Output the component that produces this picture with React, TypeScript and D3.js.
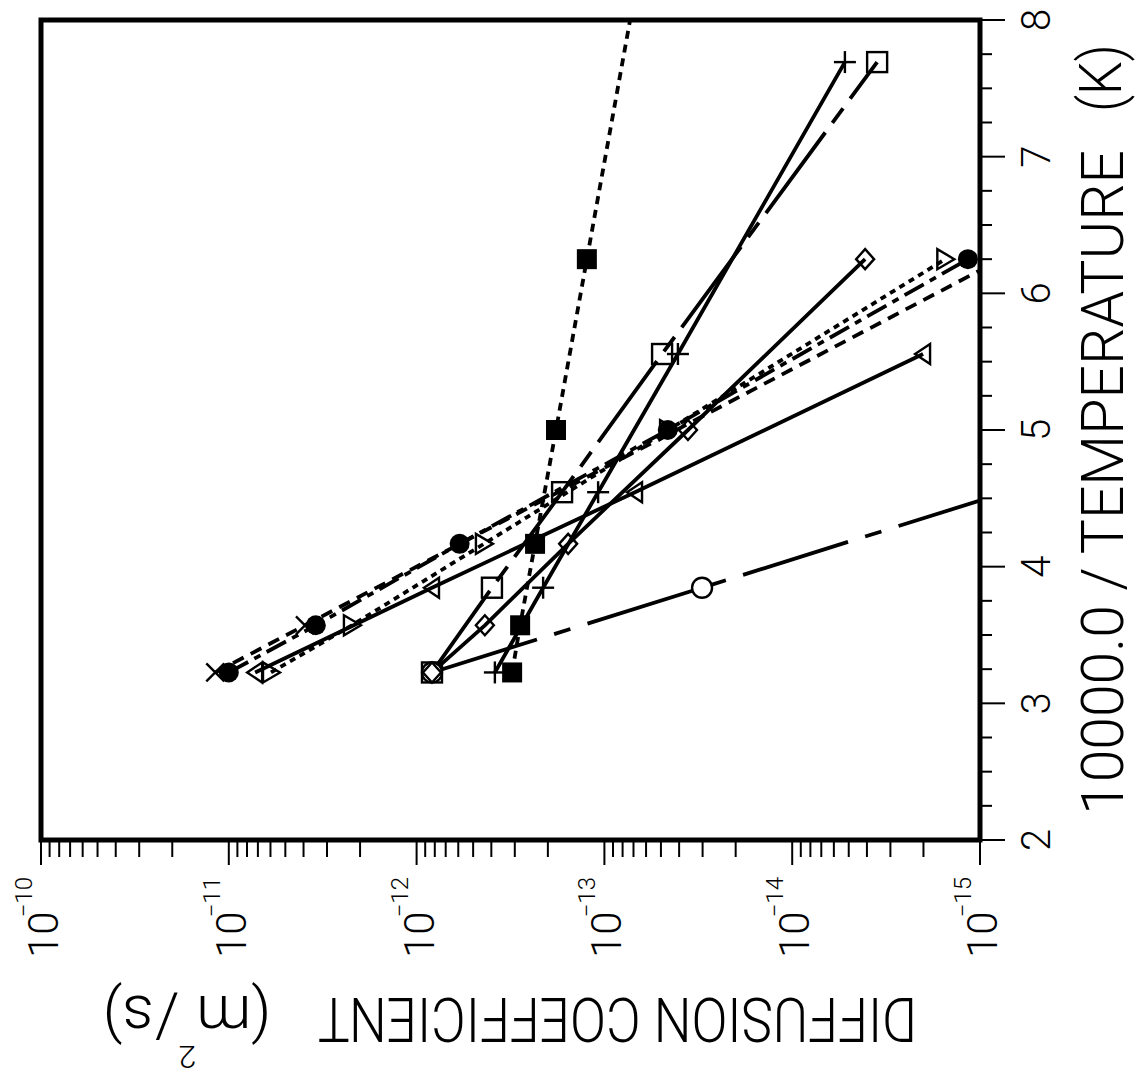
import React from "react";
import * as d3 from "d3";

const WIDTH = 1139;
const HEIGHT = 1079;

// 10000 / T (K) at the measurement temperatures
const invT_A = [3.226, 3.571, 4.167, 5.0, 6.25]; // 310, 280, 240, 200, 160 K
const invT_B = [3.226, 3.846, 4.545, 5.556, 7.692]; // 310, 260, 220, 180, 130 K
const invT_C = [3.226, 3.846, 4.545, 5.556]; // 310, 260, 220, 180 K
const invT_D = [3.226, 3.846]; // 310, 260 K
const invT_E = [3.226, 3.571]; // 310, 280 K

// Diffusion coefficients (m^2/s)
const D_filledCircle = [1.0e-11, 3.44e-12, 5.9e-13, 4.6e-14, 1.16e-15];
const D_cross = [1.18e-11, 3.93e-12];
const D_triDown = [5.96e-12, 2.21e-12, 4.38e-13, 4.58e-14, 1.53e-15];
const D_triUp = [7.24e-12, 8.28e-13, 6.87e-14, 2.01e-15];
const D_filledSquare = [3.1e-13, 2.81e-13, 2.34e-13, 1.81e-13, 1.24e-13];
const D_openSquare = [8.28e-13, 3.97e-13, 1.68e-13, 4.93e-14, 3.53e-15];
const D_plus = [3.83e-13, 2.12e-13, 1.08e-13, 4.06e-14, 5.24e-15];
const D_diamond = [8.28e-13, 4.33e-13, 1.56e-13, 3.59e-14, 4.09e-15];
const D_openCircle = [8.28e-13, 3.02e-14];

// Axis ticks
const invTMajor = [2, 3, 4, 5, 6, 7, 8];
const decadeExponents = [10, 11, 12, 13, 14, 15];

type Marker =
  | "filledCircle"
  | "openCircle"
  | "filledSquare"
  | "openSquare"
  | "plus"
  | "cross"
  | "triUp"
  | "triDown"
  | "diamond";

interface Series {
  marker: Marker;
  invT: number[];
  D: number[];
  dash: string;
  extendTo?: number;
}

const series: Series[] = [
  { marker: "openCircle", invT: invT_D, D: D_openCircle, dash: "110 18 17 18", extendTo: 5.2 },
  { marker: "filledSquare", invT: invT_A, D: D_filledSquare, dash: "8 6", extendTo: 9 },
  { marker: "openSquare", invT: invT_B, D: D_openSquare, dash: "100 12 18 12" },
  { marker: "plus", invT: invT_B, D: D_plus, dash: "" },
  { marker: "diamond", invT: invT_A, D: D_diamond, dash: "" },
  { marker: "triUp", invT: invT_C, D: D_triUp, dash: "" },
  { marker: "cross", invT: invT_E, D: D_cross, dash: "12 8", extendTo: 7 },
  { marker: "triDown", invT: invT_A, D: D_triDown, dash: "6 5" },
  { marker: "filledCircle", invT: invT_A, D: D_filledCircle, dash: "22 7 7 7" },
];

const PL = 41;
const PR = 980;
const PT = 20;
const PB = 840;

const xD = d3.scaleLog().domain([1e-10, 1e-15]).range([PL, PR]);
const yT = d3.scaleLinear().domain([2, 8]).range([PB, PT]);

const FONT = "Roboto, 'DejaVu Sans', sans-serif";

function markerShape(m: Marker, cx: number, cy: number, key: string) {
  const sw = 2.4;
  switch (m) {
    case "filledCircle":
      return <circle key={key} cx={cx} cy={cy} r={10} fill="#000" />;
    case "openCircle":
      return <circle key={key} cx={cx} cy={cy} r={10} fill="#fff" stroke="#000" strokeWidth={sw} />;
    case "filledSquare":
      return <rect key={key} x={cx - 10} y={cy - 10} width={20} height={20} fill="#000" />;
    case "openSquare":
      return <rect key={key} x={cx - 10} y={cy - 10} width={20} height={20} fill="none" stroke="#000" strokeWidth={sw} />;
    case "plus":
      return (
        <g key={key} stroke="#000" strokeWidth={sw}>
          <line x1={cx - 11} y1={cy} x2={cx + 11} y2={cy} />
          <line x1={cx} y1={cy - 11} x2={cx} y2={cy + 11} />
        </g>
      );
    case "cross":
      return (
        <g key={key} stroke="#000" strokeWidth={sw}>
          <line x1={cx - 9} y1={cy - 9} x2={cx + 9} y2={cy + 9} />
          <line x1={cx - 9} y1={cy + 9} x2={cx + 9} y2={cy - 9} />
        </g>
      );
    case "triUp":
      return (
        <polygon key={key} points={`${cx - 8},${cy} ${cx + 7},${cy - 10} ${cx + 7},${cy + 10}`} fill="none" stroke="#000" strokeWidth={sw} />
      );
    case "triDown":
      return (
        <polygon key={key} points={`${cx + 9},${cy} ${cx - 8},${cy - 10} ${cx - 8},${cy + 10}`} fill="none" stroke="#000" strokeWidth={sw} />
      );
    case "diamond":
      return (
        <polygon key={key} points={`${cx},${cy - 10} ${cx + 9},${cy} ${cx},${cy + 10} ${cx - 9},${cy}`} fill="none" stroke="#000" strokeWidth={sw} />
      );
  }
}

export default function App() {
  const lineGen = d3
    .line<[number, number]>()
    .x((p) => xD(p[1]))
    .y((p) => yT(p[0]));

  const minorInvT = d3.range(2, 8.001, 0.25).filter((v) => Math.abs(v - Math.round(v)) > 1e-6);
  const minorD: number[] = [];
  for (let e = 11; e <= 15; e++) {
    for (let m = 2; m <= 9; m++) minorD.push(m * Math.pow(10, -e));
  }

  return (
    <div style={{ position: "absolute", left: 0, top: 0 }}>
      <svg width={WIDTH} height={HEIGHT} style={{ display: "block", background: "#fff" }}>
        <defs>
          <clipPath id="plotClip">
            <rect x={PL} y={PT} width={PR - PL} height={PB - PT} />
          </clipPath>
        </defs>
        <rect x={0} y={0} width={WIDTH} height={HEIGHT} fill="#fff" />

        {/* data lines */}
        <g clipPath="url(#plotClip)" fill="none" stroke="#000" strokeWidth={3.8}>
          {series.map((s, i) => {
            const pts: [number, number][] = s.invT.map((t, j) => [t, s.D[j]]);
            if (s.extendTo !== undefined) {
              const n = pts.length - 1;
              const l0 = Math.log10(pts[0][1]);
              const l1 = Math.log10(pts[n][1]);
              const slope = (l1 - l0) / (pts[n][0] - pts[0][0]);
              const lv = l0 + slope * (s.extendTo - pts[0][0]);
              pts.push([s.extendTo, Math.pow(10, lv)]);
            }
            return <path key={i} d={lineGen(pts) || ""} strokeDasharray={s.dash || undefined} />;
          })}
        </g>

        {/* markers */}
        <g clipPath="url(#plotClip)">
          {series.map((s, i) =>
            s.invT.map((t, j) => markerShape(s.marker, xD(s.D[j]), yT(t), `${i}-${j}`))
          )}
        </g>

        {/* frame */}
        <rect x={PL} y={PT} width={PR - PL} height={PB - PT} fill="none" stroke="#000" strokeWidth={5} />

        {/* 1/T axis ticks (right side) */}
        <g stroke="#000" strokeWidth={2}>
          {invTMajor.map((t) => (
            <line key={`tm${t}`} x1={PR} x2={PR + 25} y1={yT(t)} y2={yT(t)} />
          ))}
          {minorInvT.map((t) => (
            <line key={`tn${t}`} x1={PR} x2={PR + 12} y1={yT(t)} y2={yT(t)} />
          ))}
        </g>
        {invTMajor.map((t) => (
          <text
            key={`tl${t}`}
            transform={`translate(${PR + 70},${yT(t)}) rotate(-90)`}
            textAnchor="middle"
            fontFamily={FONT}
            fontWeight={300}
            fontSize={40}
          >
            {t}
          </text>
        ))}

        {/* D axis ticks (bottom) */}
        <g stroke="#000" strokeWidth={2}>
          {decadeExponents.map((e) => (
            <line key={`dm${e}`} x1={xD(Math.pow(10, -e))} x2={xD(Math.pow(10, -e))} y1={PB} y2={PB + 25} />
          ))}
          {minorD.map((d) => (
            <line key={`dn${d}`} x1={xD(d)} x2={xD(d)} y1={PB} y2={PB + 17} />
          ))}
        </g>
        {decadeExponents.map((e) => (
          <text
            key={`dl${e}`}
            transform={`translate(${xD(Math.pow(10, -e)) + 17},877) rotate(-90)`}
            textAnchor="end"
            fontFamily={FONT}
            fontWeight={300}
            fontSize={42}
          >
            10
            <tspan dx={-6} dy={-26} fontSize={24}>
              {"\u2212" + e}
            </tspan>
          </text>
        ))}

        {/* right axis title */}
        <text
          transform={`translate(1123,815) rotate(-90)`}
          textAnchor="start"
          fontFamily={FONT}
          fontWeight={300}
          fontSize={60}
          textLength={665}
          lengthAdjust="spacingAndGlyphs"
        >
          10000.0 / TEMPERATURE
        </text>
        <text
          transform={`translate(1121,112) rotate(-90)`}
          textAnchor="start"
          fontFamily={FONT}
          fontWeight={300}
          fontSize={60}
          textLength={68}
          lengthAdjust="spacingAndGlyphs"
        >
          (K)
        </text>

        {/* bottom axis title (upside down) */}
        <text
          transform={`translate(917,998) rotate(180)`}
          textAnchor="start"
          fontFamily={FONT}
          fontWeight={300}
          fontSize={62}
          textLength={599}
          lengthAdjust="spacingAndGlyphs"
        >
          DIFFUSION COEFFICIENT
        </text>
        <text
          transform={`translate(271,996) rotate(180)`}
          textAnchor="start"
          fontFamily={FONT}
          fontWeight={300}
          fontSize={62}
        >
          (m
          <tspan dy={-50} fontSize={32}>
            2
          </tspan>
          <tspan dy={50}>/s)</tspan>
        </text>
      </svg>
    </div>
  );
}
